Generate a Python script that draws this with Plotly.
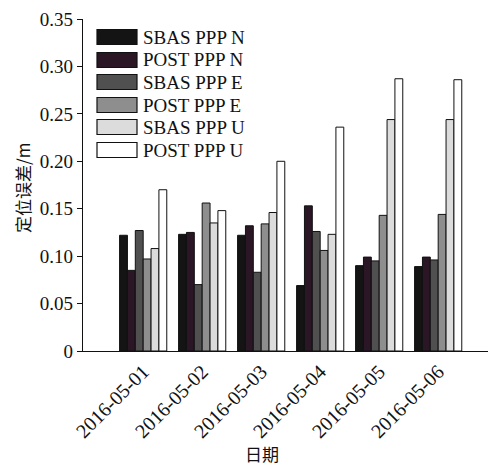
import plotly.graph_objects as go

dates = ["2016-05-01", "2016-05-02", "2016-05-03", "2016-05-04", "2016-05-05", "2016-05-06"]
series_names = ["SBAS PPP N", "POST PPP N", "SBAS PPP E", "POST PPP E", "SBAS PPP U", "POST PPP U"]
sbas_n = [0.122, 0.123, 0.122, 0.069, 0.090, 0.089]
post_n = [0.085, 0.125, 0.132, 0.153, 0.099, 0.099]
sbas_e = [0.127, 0.070, 0.083, 0.126, 0.095, 0.096]
post_e = [0.097, 0.156, 0.134, 0.106, 0.143, 0.144]
sbas_u = [0.108, 0.135, 0.146, 0.123, 0.244, 0.244]
post_u = [0.170, 0.148, 0.200, 0.236, 0.287, 0.286]
colors = ["#141414", "#2a1624", "#505050", "#8e8e8e", "#dcdcdc", "#ffffff"]
y_tickvals = [0, 0.05, 0.10, 0.15, 0.20, 0.25, 0.30, 0.35]
y_ticktext = ["0", "0.05", "0.10", "0.15", "0.20", "0.25", "0.30", "0.35"]

OFF = 8  # page body margin
W, H = 496 - OFF, 468 - OFF
L, R, T, B = 83 - OFF, 0, 19 - OFF, 117
pw, ph = W - L - R, H - T - B

def px(x):
    return (x - OFF - L) / pw

def py(y):
    return (H - B - (y - OFF)) / ph

serif = "Liberation Serif, Times New Roman, serif"
cjk = "Noto Sans CJK SC, sans-serif"

fig = go.Figure()
all_vals = [sbas_n, post_n, sbas_e, post_e, sbas_u, post_u]
for name, vals, c in zip(series_names, all_vals, colors):
    fig.add_trace(go.Bar(x=dates, y=vals, name=name,
                         marker=dict(color=c, line=dict(color="#111", width=1)),
                         showlegend=False))

shapes = []
annotations = []
row_y = [37, 60, 82, 105, 127, 150]
for name, c, yy in zip(series_names, colors, row_y):
    shapes.append(dict(type="rect", xref="paper", yref="paper",
                       x0=px(97), x1=px(137), y0=py(yy + 7.5), y1=py(yy - 7.5),
                       fillcolor=c, line=dict(color="#111", width=1.2)))
    annotations.append(dict(text=name, xref="paper", yref="paper",
                            x=px(141), y=py(yy), xanchor="left", yanchor="middle",
                            showarrow=False, font=dict(family=serif, size=19, color="#111")))

annotations.append(dict(text="定位误差/m", xref="paper", yref="paper",
                        x=px(22), y=py(188), textangle=-90, xanchor="center", yanchor="middle",
                        showarrow=False, font=dict(family=cjk, size=17, color="#111")))
annotations.append(dict(text="日期", xref="paper", yref="paper",
                        x=px(262), y=py(453), xanchor="center", yanchor="middle",
                        showarrow=False, font=dict(family=cjk, size=17, color="#111")))

fig.update_layout(
    width=W, height=H,
    margin=dict(l=L, r=R, t=T, b=B),
    paper_bgcolor="white", plot_bgcolor="white",
    barmode="group", bargap=0.2, bargroupgap=0,
    shapes=shapes, annotations=annotations,
    xaxis=dict(type="category", range=[-1.02, 5.98], showline=True, linecolor="#111",
               linewidth=1.2, ticks="", tickangle=-45, showgrid=False,
               tickfont=dict(family=serif, size=20, color="#111")),
    yaxis=dict(range=[0, 0.35], showline=True, linecolor="#111", linewidth=1.2,
               ticks="outside", ticklen=5, tickcolor="#111", showgrid=False, zeroline=False,
               tickvals=y_tickvals, ticktext=y_ticktext,
               tickfont=dict(family=serif, size=19, color="#111")),
)

fig.write_html("out.html")
